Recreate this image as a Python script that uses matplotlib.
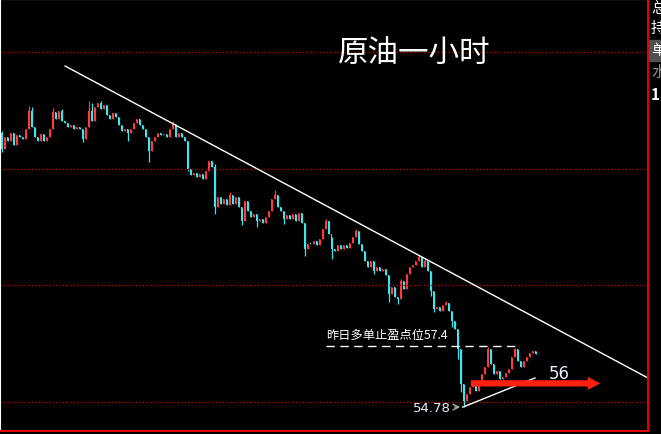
#Crude oil 1h candles with trend line notes

import matplotlib.pyplot as plt

plt.rcParams['font.family'] = ['Noto Sans CJK SC', 'DejaVu Sans']

# hourly candles, open of each bar = close of the bar before
first_open = 66.55
closes = [
    65.86, 66.37, 66.20, 66.55, 66.03, 66.46, 66.37, 66.29, 66.72, 67.49,
    66.80, 66.37, 66.20, 66.50, 66.20, 66.37, 66.72, 67.45, 67.15, 67.49,
    67.06, 66.97, 66.80, 66.89, 66.72, 66.80, 66.72, 66.29, 66.80, 67.49,
    67.06, 67.66, 67.83, 67.57, 67.75, 67.32, 67.15, 67.40, 67.23, 66.89,
    66.63, 66.72, 66.55, 66.72, 66.97, 67.15, 66.89, 66.72, 66.37, 65.77,
    66.20, 66.37, 66.55, 66.46, 66.50, 66.37, 66.72, 66.93, 66.37, 66.55,
    66.37, 66.20, 65.00, 64.74, 64.83, 64.66, 64.79, 64.57, 64.91, 65.34,
    65.09, 63.37, 63.80, 63.50, 63.71, 63.45, 63.88, 63.50, 63.80, 63.37,
    62.77, 63.63, 63.20, 62.94, 63.07, 62.77, 62.85, 62.68, 62.94, 63.20,
    63.71, 63.88, 63.37, 63.20, 62.85, 63.03, 62.85, 63.07, 62.77, 63.11,
    62.68, 61.57, 61.78, 61.78, 61.91, 61.74, 62.00, 62.42, 62.77, 62.21,
    61.57, 61.48, 61.74, 61.57, 61.74, 61.61, 61.82, 62.08, 62.34, 61.78,
    61.48, 61.05, 60.79, 61.05, 60.62, 60.79, 60.62, 60.71, 60.45, 59.64,
    59.94, 59.51, 59.42, 60.19, 59.85, 60.49, 60.79, 60.88, 61.05, 61.22,
    60.79, 61.05, 60.62, 59.76, 58.99, 59.08, 58.91, 59.16, 59.25, 58.91,
    58.48, 58.13, 57.27, 55.77, 55.04, 55.34, 55.64, 55.82, 55.47, 55.73,
    56.20, 56.50, 57.27, 56.63, 56.20, 56.33, 55.99, 56.07, 56.24, 56.42,
    56.93, 57.27, 56.76, 56.50, 56.76, 56.93, 57.10, 57.19, 57.06,
]
# bars whose wick reaches past the body
high_marks = {0: 66.63, 9: 67.71, 10: 67.66, 17: 67.62, 20: 67.58, 29: 67.92,
              30: 67.83, 33: 67.92, 57: 67.06, 71: 65.21, 76: 64.01, 91: 64.10,
              108: 62.85, 110: 62.08, 118: 62.42, 133: 60.28, 139: 61.31,
              141: 61.18, 148: 59.33, 157: 55.90, 162: 57.36, 171: 57.32}
low_marks = {0: 65.73, 27: 66.16, 42: 66.20, 49: 65.30, 62: 64.91, 71: 63.07,
             80: 62.60, 85: 62.51, 94: 62.64, 101: 61.27, 110: 61.14,
             124: 60.49, 129: 59.29, 132: 59.21, 143: 59.55, 144: 58.86,
             150: 58.22, 152: 56.85, 153: 55.43, 154: 54.78}

grid_levels = [55, 60, 65, 70]
trend_x = [21.2, 215.5]
trend_y = [69.42, 56.03]
support_x = [153.8, 177.8]
support_y = [54.78, 56.03]
stop_level = 57.4
stop_span = [108.2, 172.2]
stop_label = "昨日多单止盈点位57.4"
low_value = 54.78
target_level = 55.8
target_span = [155.5, 200.5]
target_label = "56"
title = "原油一小时"
side_labels = ["总", "持", "单", "水", "1"]

UP = '#FF3C3C'
DOWN = '#3CE6F0'

fig = plt.figure(figsize=(6.61, 4.35), dpi=100, facecolor='black')
ax = fig.add_axes([0, 3 / 435, 648 / 661, 432 / 435], facecolor='black')

opens = [first_open] + closes[:-1]
xs = list(range(len(closes)))
colors, bottoms, heights, highs, lows = [], [], [], [], []
for i, (o, c) in enumerate(zip(opens, closes)):
    if c > o:
        colors.append(UP)
    elif c < o:
        colors.append(DOWN)
    else:
        colors.append('white')
    bottoms.append(min(o, c))
    heights.append(max(abs(c - o), 0.045))
    highs.append(high_marks.get(i, max(o, c)))
    lows.append(low_marks.get(i, min(o, c)))

ax.vlines(xs, lows, highs, colors=colors, linewidth=0.9)
ax.bar(xs, heights, bottom=bottoms, width=0.66, color=colors, linewidth=0)

for lvl in grid_levels:
    ax.axhline(lvl, color='#B00000', linestyle=(0, (1, 1.5)), linewidth=1)

# resistance / support lines
ax.plot(trend_x, trend_y, color='white', linewidth=1)
ax.plot(support_x, support_y, color='white', linewidth=1)

# yesterday's long take-profit level
ax.plot(stop_span, [stop_level] * 2, color='white', linewidth=1,
        linestyle=(0, (6, 4)))
ax.text(stop_span[0], stop_level + 0.2, stop_label, color='white',
        fontsize=8.8, ha='left', va='bottom')

ax.annotate('', xy=(support_x[0], low_value), xytext=(150.2, low_value),
            arrowprops=dict(arrowstyle='->', color='#B0B0B0', lw=1))
ax.text(149.8, low_value, f"{low_value:.2f}", color='#E6EEFF', fontsize=9.5,
        ha='right', va='center', family=['DejaVu Sans'])

ax.annotate('', xy=(target_span[1], target_level),
            xytext=(target_span[0], target_level),
            arrowprops=dict(arrowstyle='simple,head_width=0.95,head_length=0.9,tail_width=0.45',
                            color='#FF2010', lw=0))
ax.text(182.5, target_level + 0.45, target_label, color='#E6EEFF',
        fontsize=12, ha='left', va='center', family=['DejaVu Sans'])

ax.set_xlim(-0.5, 215.5)
ax.set_ylim(53.755, 72.296)
ax.set_xticks([])
ax.set_yticks([])
for side in ['top', 'left']:
    ax.spines[side].set_color('white')
for side in ['right', 'bottom']:
    ax.spines[side].set_color('#E00000')
    ax.spines[side].set_linewidth(1.5)

fig.text(414 / 661, 1 - 53 / 435, title, color='white', fontsize=22,
         ha='center', va='center')

# side panel, cut off at the right edge like the screenshot
fig.patches.append(plt.Rectangle((649 / 661, 1 - 62 / 435), 12 / 661, 21 / 435,
                                 transform=fig.transFigure, color='#505050'))
side_y = [8, 29, 51, 72, 95]
side_col = ['white', 'white', 'white', '#909090', 'white']
for lab, yy, col in zip(side_labels, side_y, side_col):
    fig.text(651 / 661, 1 - yy / 435, lab, color=col, fontsize=11,
             ha='left', va='center', fontweight='bold' if lab == '1' else 'normal')

fig.savefig('out.png', dpi=100, facecolor='black')
